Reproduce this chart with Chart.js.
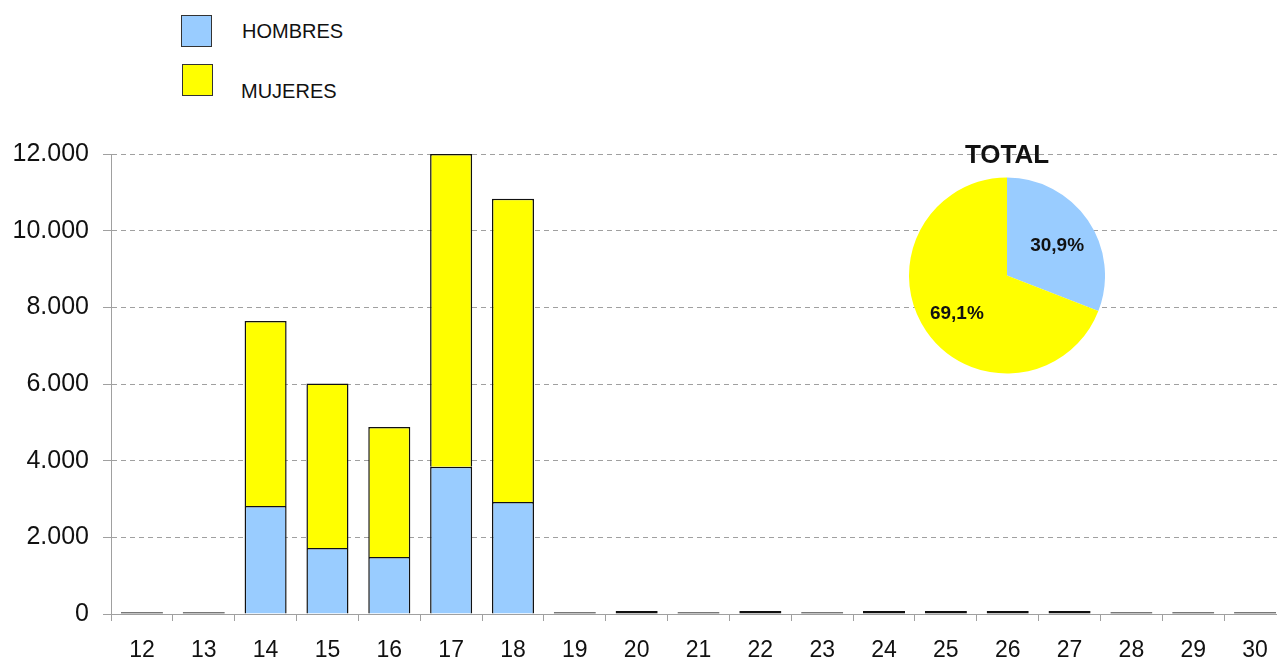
<!DOCTYPE html>
<html>
<head>
<meta charset="utf-8">
<script src="https://cdn.jsdelivr.net/npm/chart.js@4/dist/chart.umd.min.js"></script>
<style>
  html, body { margin: 0; padding: 0; background: #fff; }
  body { width: 1277px; height: 660px; position: relative; overflow: hidden; font-family: "Liberation Sans", Arial, sans-serif; }
  #barWrap { position: absolute; left: 0; top: 0; width: 1286px; height: 660px; }
  #pieWrap { position: absolute; left: 909px; top: 140px; width: 196px; height: 238px; }
  .leg { position: absolute; font-size: 20px; color: #111; line-height: 1; }
  .box { position: absolute; box-sizing: border-box; border: 1.5px solid #333; }
</style>
</head>
<body>
<div id="legend"></div>
<div id="barWrap"><canvas id="bar" width="1286" height="660"></canvas></div>
<div id="pieWrap"><canvas id="pie" width="196" height="238"></canvas></div>
<script>
// ---- data ----
const categories = ['12','13','14','15','16','17','18','19','20','21','22','23','24','25','26','27','28','29','30'];
const seriesNames = ['HOMBRES', 'MUJERES'];
const hombres = [13, 13, 2820, 1720, 1490, 3840, 2925, 13, 24, 13, 24, 13, 24, 24, 24, 24, 13, 13, 13];
const mujeres = [30, 30, 4825, 4290, 3390, 8160, 7905, 30, 56, 30, 56, 30, 56, 56, 56, 56, 30, 30, 30];
const yTicks = [0, 2000, 4000, 6000, 8000, 10000, 12000];
const pieTitle = 'TOTAL';
const pieValues = [30.9, 69.1];

const colors = ['#99CCFF', '#FFFF00'];
const FONT = '"Liberation Sans", Arial, sans-serif';

// ---- legend (HTML) ----
const legend = document.getElementById('legend');
const legPos = [ {bx:181, by:15, tx:242, ty:21}, {bx:182, by:64, tx:241, ty:81} ];
seriesNames.forEach((n, i) => {
  const b = document.createElement('div');
  b.className = 'box';
  b.style.left = legPos[i].bx + 'px'; b.style.top = legPos[i].by + 'px';
  b.style.width = '31px'; b.style.height = '32px';
  b.style.background = colors[i];
  legend.appendChild(b);
  const t = document.createElement('div');
  t.className = 'leg';
  t.style.left = legPos[i].tx + 'px'; t.style.top = legPos[i].ty + 'px';
  t.textContent = n;
  legend.appendChild(t);
});

function fmt(v) { return v.toString().replace(/\B(?=(\d{3})+(?!\d))/g, '.'); }

const GRID = '#a0a0a0';
const skip = (ctx) => (ctx.raw !== undefined && ctx.raw < 200) ? false : 'start';

new Chart(document.getElementById('bar'), {
  type: 'bar',
  data: {
    labels: categories,
    datasets: [
      { label: seriesNames[0], data: hombres, backgroundColor: colors[0], borderColor: '#111', borderWidth: 1.5, borderSkipped: skip, barPercentage: 0.68, categoryPercentage: 1 },
      { label: seriesNames[1], data: mujeres, backgroundColor: colors[1], borderColor: '#111', borderWidth: 1.5, borderSkipped: skip, barPercentage: 0.68, categoryPercentage: 1 }
    ]
  },
  options: {
    responsive: false,
    animation: false,
    layout: { padding: { top: 154, right: 0, bottom: 0, left: 0 } },
    plugins: { legend: { display: false }, tooltip: { enabled: false } },
    scales: {
      x: {
        stacked: true,
        grid: { display: true, offset: true, drawOnChartArea: false, drawTicks: true, tickLength: 7, color: GRID, lineWidth: 1 },
        border: { display: true, color: GRID, width: 1 },
        ticks: { color: '#111', font: { family: FONT, size: 23 }, padding: 16, maxRotation: 0, autoSkip: false },
        afterFit: (s) => { s.height = 46; }
      },
      y: {
        stacked: true,
        min: 0, max: 12000,
        afterBuildTicks: (s) => { s.ticks = yTicks.map(v => ({ value: v })); },
        grid: { display: true, color: GRID, lineWidth: 1, drawTicks: true, tickLength: 8, tickColor: GRID },
        border: { display: true, color: GRID, width: 1, dash: [5, 4] },
        ticks: { color: '#111', font: { family: FONT, size: 25 }, padding: 14, callback: (v) => fmt(v) },
        afterFit: (s) => { s.width = 111; }
      }
    }
  }
});

// ---- pie ----
const pieLabelPlugin = {
  id: 'pieLabels',
  afterDatasetsDraw(chart) {
    const ctx = chart.ctx;
    const meta = chart.getDatasetMeta(0);
    ctx.save();
    ctx.font = 'bold 19px ' + FONT;
    ctx.fillStyle = '#111';
    ctx.textAlign = 'center';
    ctx.textBaseline = 'middle';
    meta.data.forEach((arc, i) => {
      const mid = (arc.startAngle + arc.endAngle) / 2;
      const r = arc.outerRadius * 0.62;
      const x = arc.x + Math.cos(mid) * r;
      const y = arc.y + Math.sin(mid) * r + 4;
      ctx.fillText(pieValues[i].toFixed(1).replace('.', ',') + '%', x, y);
    });
    ctx.restore();
  }
};

new Chart(document.getElementById('pie'), {
  type: 'pie',
  data: {
    labels: seriesNames,
    datasets: [{ data: pieValues, backgroundColor: colors, borderWidth: 0 }]
  },
  options: {
    responsive: false,
    animation: false,
    layout: { padding: 0 },
    plugins: {
      legend: { display: false },
      tooltip: { enabled: false },
      title: { display: true, text: pieTitle, color: '#111', font: { family: FONT, size: 26, weight: 'bold' }, padding: { top: 0, bottom: 2 } }
    }
  },
  plugins: [pieLabelPlugin]
});
</script>
</body>
</html>
